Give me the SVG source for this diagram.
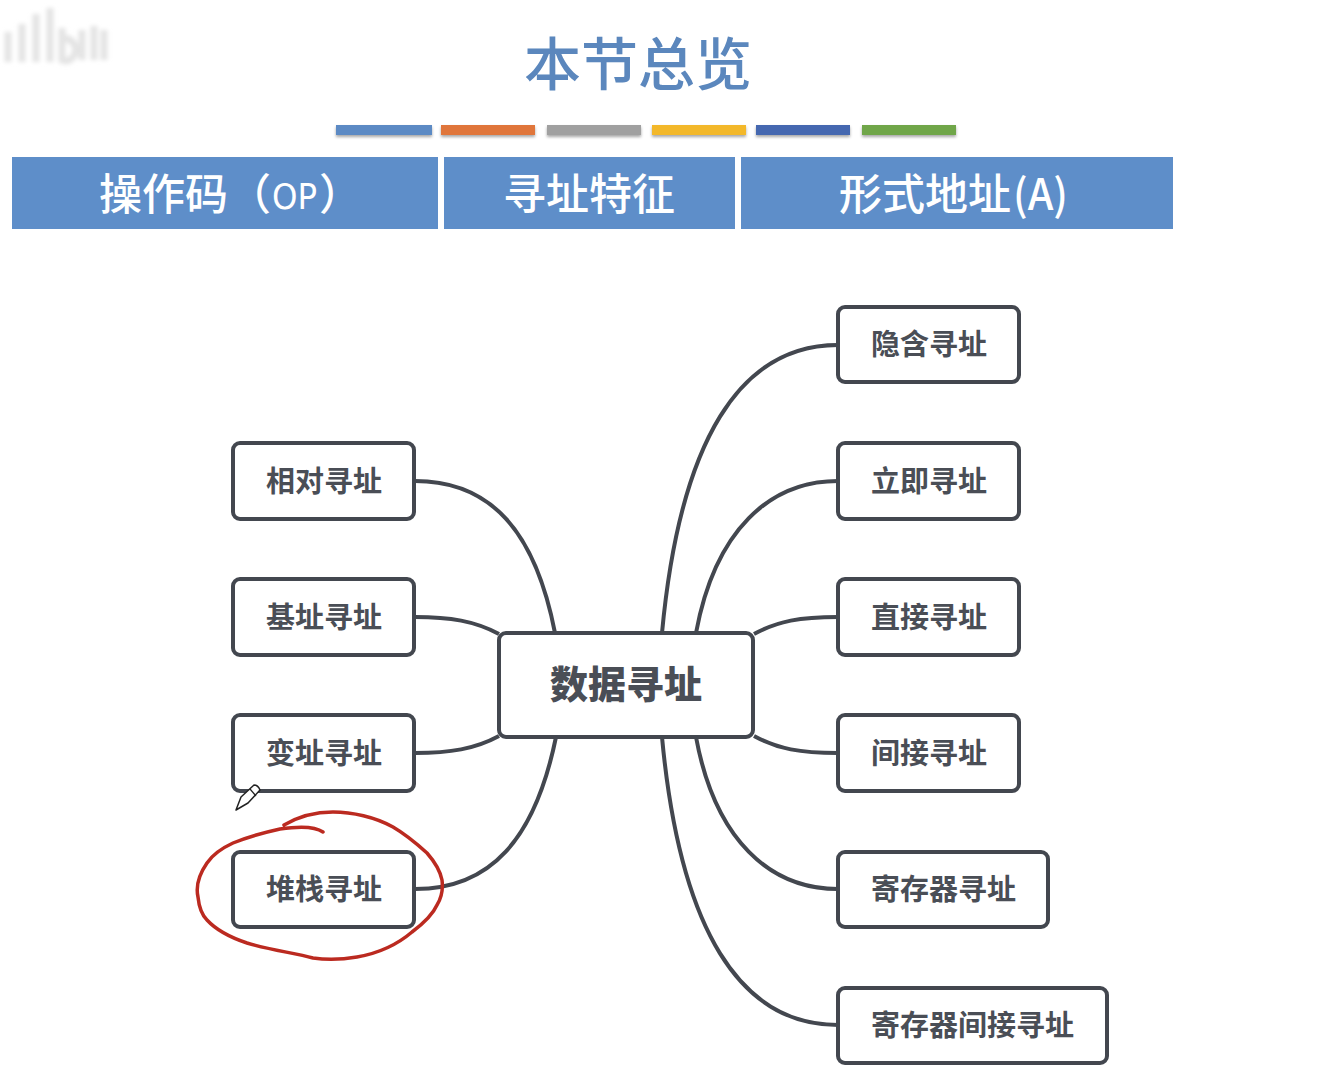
<svg xmlns="http://www.w3.org/2000/svg" width="1320" height="1079" viewBox="0 0 1320 1079">
<style>
text{font-family:"Noto Sans CJK SC","Noto Sans",sans-serif}
.n rect{fill:#fff;stroke:#43474f;stroke-width:4}
.n text{font-size:29px;font-weight:700;fill:#4a4e56;text-anchor:middle}
.h rect{fill:#5e8ec9}
.h text{font-size:43px;font-weight:500;fill:#fff}
.c path{fill:none;stroke:#43474f;stroke-width:4}
.w{fill:none;stroke:#e4e4e4;stroke-width:7;filter:url(#b)}
</style>
<defs>
<filter id="b" x="-20%" y="-20%" width="140%" height="140%"><feGaussianBlur stdDeviation="2"/></filter>
<filter id="s" x="-5%" y="-30%" width="110%" height="200%"><feDropShadow dx="0" dy="2" stdDeviation="1.500" flood-color="#000" flood-opacity=".35"/></filter>
</defs>
<rect width="1320" height="1079" fill="#fff"/>
<g id="watermark"><path class="w" d="M8 32V62M22 24V62M36 14V62M50 8V62M62 28V60Q72 64 76 50Q74 38 62 38M82 30V60M94 26V60M104 30V60"/></g>
<text id="title" x="638" y="85" font-size="57" font-weight="500" fill="#5b87bd" text-anchor="middle">本节总览</text>
<g id="bars" filter="url(#s)">
<rect x="336" y="125" width="96" height="10" fill="#5b8ac4"/>
<rect x="441" y="125" width="94" height="10" fill="#e0763a"/>
<rect x="547" y="125" width="94" height="10" fill="#a0a0a0"/>
<rect x="652" y="125" width="94" height="10" fill="#f3b82c"/>
<rect x="756" y="125" width="94" height="10" fill="#4468b0"/>
<rect x="862" y="125" width="94" height="10" fill="#6fa64a"/>
</g>
<g id="h1" class="h"><rect x="12" y="157" width="426" height="72"/><text x="99" y="210">操作码（<tspan x="272" y="209" style="font-family:'DejaVu Sans',sans-serif;font-stretch:condensed;font-size:36px;font-weight:400">OP</tspan><tspan x="319" y="210">）</tspan></text></g>
<g id="h2" class="h"><rect x="444" y="157" width="291" height="72"/><text x="503" y="210">寻址特征</text></g>
<g id="h3" class="h"><rect x="741" y="157" width="432" height="72"/><text x="839" y="210">形式地址<tspan x="1013" textLength="55" lengthAdjust="spacingAndGlyphs">(A)</tspan></text></g>
<g id="connectors" class="c">
<path d="M415 481C490 481 535 530 555 633"/>
<path d="M415 617C450 617 475 621 499 634"/>
<path d="M415 753C450 753 475 749 499 736"/>
<path d="M415 889C490 889 535 840 556 737"/>
<path d="M838 345C740 345 680 440 662 633"/>
<path d="M838 481C770 481 715 530 696 633"/>
<path d="M838 617C800 617 778 621 754 634"/>
<path d="M838 753C800 753 778 749 754 736"/>
<path d="M838 889C770 889 715 840 696 737"/>
<path d="M838 1025C740 1025 680 930 662 737"/>
</g>
<g id="center" class="n"><rect x="499" y="633" width="254" height="104" rx="7"/><text x="626" y="698" style="font-size:38px;font-weight:900">数据寻址</text></g>
<g id="n1" class="n"><rect x="233" y="443" width="181" height="76" rx="7"/><text x="324" y="492">相对寻址</text></g>
<g id="n2" class="n"><rect x="233" y="579" width="181" height="76" rx="7"/><text x="324" y="628">基址寻址</text></g>
<g id="n3" class="n"><rect x="233" y="715" width="181" height="76" rx="7"/><text x="324" y="764">变址寻址</text></g>
<g id="n4" class="n"><rect x="233" y="852" width="181" height="75" rx="7"/><text x="324" y="900">堆栈寻址</text></g>
<g id="n5" class="n"><rect x="838" y="307" width="181" height="75" rx="7"/><text x="929" y="355">隐含寻址</text></g>
<g id="n6" class="n"><rect x="838" y="443" width="181" height="76" rx="7"/><text x="929" y="492">立即寻址</text></g>
<g id="n7" class="n"><rect x="838" y="579" width="181" height="76" rx="7"/><text x="929" y="628">直接寻址</text></g>
<g id="n8" class="n"><rect x="838" y="715" width="181" height="76" rx="7"/><text x="929" y="764">间接寻址</text></g>
<g id="n9" class="n"><rect x="838" y="852" width="210" height="75" rx="7"/><text x="943.500" y="900">寄存器寻址</text></g>
<g id="n10" class="n"><rect x="838" y="988" width="269" height="75" rx="7"/><text x="972.500" y="1036">寄存器间接寻址</text></g>
<path id="circle" d="M323 832C316 827 300 826 280 829C262 833 245 838 233 843C220 849 211 857 207 863C198 876 196 888 198 897C199 907 202 915 207 920C218 932 232 938 247 943C270 950 295 953 313 958C328 960 345 959 357 957C380 953 398 944 412 932C424 923 433 914 437 905C442 897 443 888 442 880C440 870 434 861 427 853C416 843 405 834 393 827C375 817 352 812 333 812C314 812 296 818 284 825" fill="none" stroke="#bb2a20" stroke-width="3.500" stroke-linecap="round"/>
<g id="pencil"><path d="M236 810L241 797L254 785Q258 785 260 790L248 803Z" fill="#fff" stroke="#222" stroke-width="1.500" stroke-linejoin="round"/><path d="M250 789L256 796" stroke="#222" stroke-width="1.200"/></g>
</svg>
